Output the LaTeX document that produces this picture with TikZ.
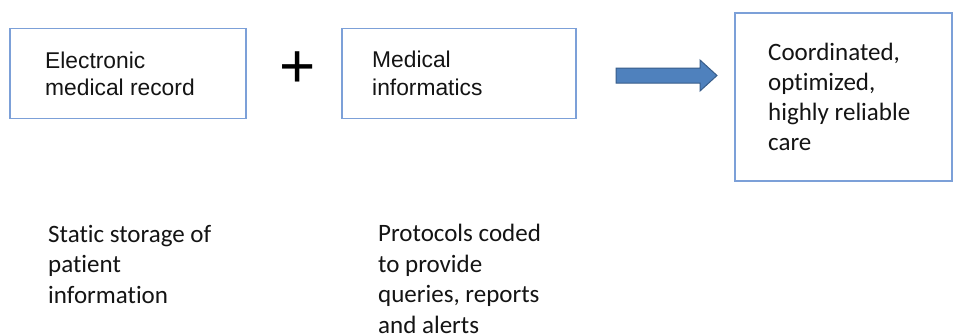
\documentclass[tikz,border=0pt]{standalone}
\usepackage{fontspec}
\setmainfont{Carlito}[Ligatures=NoCommon]
\newfontfamily\arialf{Liberation Sans}
\definecolor{boxblue}{RGB}{124,160,216}
\definecolor{arrowfill}{RGB}{79,129,189}
\definecolor{arrowdraw}{RGB}{56,93,138}
\definecolor{ink}{RGB}{20,20,20}
\begin{document}
\begin{tikzpicture}[x=1pt,y=-1pt,
  boxframe/.style={draw=boxblue,line width=1.6pt,inner sep=0pt,fill=white},
  boxtext/.style={anchor=base west,inner sep=0pt,align=left,text=ink,
    font=\arialf\fontsize{22.8}{27.5}\selectfont},
  plaintext/.style={anchor=base west,inner sep=0pt,align=left,text=ink,
    font=\fontsize{25}{30.5}\selectfont},
  bigarrow/.style={fill=arrowfill,draw=arrowdraw,line width=1pt,line join=miter}]
\useasboundingbox[fill=white] (0,0) rectangle (958,335);
% boxes
\node[boxframe,minimum width=236pt,minimum height=90pt] (emr) at (128,73.5) {};
\node[boxframe,minimum width=234pt,minimum height=90pt] (mi) at (459,73.5) {};
\node[boxframe,minimum width=217pt,minimum height=168pt] (care) at (843.5,97) {};
% box texts (anchor = baseline of last line)
\node[boxtext] (emrtext) at (45,95.5) {Electronic\\medical record};
\node[boxtext] (mitext) at (372,95) {Medical\\informatics};
\node[plaintext,font=\fontsize{25}{29.7}\selectfont] (caretext) at (768,150) {Coordinated,\\optimized,\\highly reliable\\care};
% plus sign
\node[inner sep=0pt,text=black] (plus) at (297.5,69.5) {\arialf\fontsize{62}{62}\selectfont +};
% block arrow
\coordinate (a1) at (616,68);
\draw[bigarrow] (a1) -- (700,68) -- (700,60) -- (717,75.5) -- (700,91) -- (700,83) -- (616,83) -- cycle;
% lower descriptions
\node[plaintext] (emrdesc) at (48,303) {Static storage of\\patient\\information};
\node[plaintext] (midesc) at (378,333) {Protocols coded\\to provide\\queries, reports\\and alerts};
\end{tikzpicture}
\end{document}
